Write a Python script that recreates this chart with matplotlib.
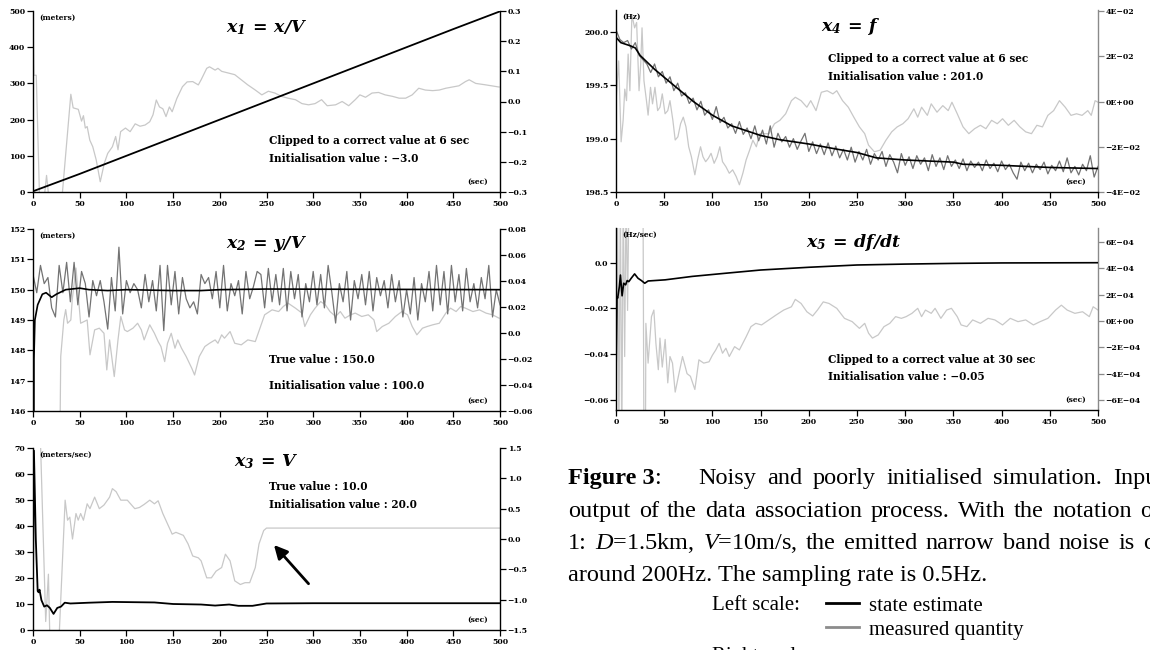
import numpy as np
import matplotlib
matplotlib.use("Agg")
import matplotlib.pyplot as plt
from matplotlib.lines import Line2D

plt.rcParams['font.family'] = 'DejaVu Serif'
plt.rcParams['font.weight'] = 'bold'
plt.rcParams['mathtext.fontset'] = 'custom'
plt.rcParams['mathtext.bf'] = 'DejaVu Serif:style=italic:weight=bold'
plt.rcParams['mathtext.it'] = 'Liberation Serif:style=italic:weight=normal'
plt.rcParams['mathtext.rm'] = 'Liberation Serif:weight=normal'

BLACK = '#000000'
DARK = '#737373'
LIGHT = '#c8c8c8'

# ---------------- data ----------------
x_ticks = [0, 50, 100, 150, 200, 250, 300, 350, 400, 450, 500]

# x1 = x/V
t1_est = [0, 50, 100, 150, 200, 250, 300, 350, 400, 450, 500]
x1_est = [2, 50, 100, 150, 200, 250, 300, 350, 400, 450, 499]
t1_err = [0, 1, 3.5, 7, 12, 14.5, 17, 31, 40.5, 43, 48.5, 52, 54, 56, 58, 60.8, 64, 67.7, 72, 76.4,
          80, 85, 88.5, 91, 93.8, 99, 104, 109.4, 114.6, 120, 125, 128.5, 132, 135.4, 139, 142.4,
          146, 149, 154, 160, 165, 171, 177, 180, 186, 189, 195, 198, 202, 216, 223, 230, 238, 245,
          252, 259, 266, 273, 281, 288, 295, 302, 309, 315, 324, 331, 338, 345, 350, 356, 363, 370,
          377, 385, 392, 399, 406, 413, 420, 428, 435, 442, 449, 456, 463, 467, 474, 485, 499]
x1_err = [0.29, 0.087, 0.087, -0.32, -0.32, -0.245, -0.32, -0.32, 0.024, -0.021, -0.026, -0.065,
          -0.047, -0.088, -0.083, -0.128, -0.15, -0.194, -0.266, -0.204, -0.172, -0.15, -0.116,
          -0.16, -0.1, -0.088, -0.1, -0.074, -0.082, -0.078, -0.067, -0.044, 0.005, -0.018, -0.024,
          -0.05, -0.018, -0.034, 0.01, 0.049, 0.065, 0.066, 0.055, 0.072, 0.110, 0.115, 0.104, 0.110,
          0.1, 0.089, 0.072, 0.055, 0.038, 0.022, 0.034, 0.028, 0.017, 0.011, 0.006, -0.007, -0.011,
          -0.007, 0.006, -0.014, -0.011, 0.0, -0.014, 0.006, 0.022, 0.014, 0.028, 0.03, 0.022, 0.017,
          0.011, 0.011, 0.022, 0.044, 0.038, 0.036, 0.038, 0.044, 0.048, 0.052, 0.066, 0.072, 0.06,
          0.055, 0.048]

# x2 = y/V
t2_est = [0, 1, 2, 5, 10, 14, 20, 25, 35, 50, 60, 80, 100, 150, 180, 200, 250, 500]
x2_est = [100, 147.7, 149.0, 149.5, 149.85, 149.9, 149.75, 149.85, 150.0, 150.05, 150.0, 149.97,
          150.0, 149.97, 149.97, 150.0, 150.02, 150.0]
t_meas = np.arange(0, 501, 4)
x2_meas = [150.5, 149.9, 150.8, 150.2, 150.4, 149.4, 149.1, 150.8, 149.9, 150.9, 149.6, 150.9,
           149.5, 150.6, 150.2, 149.1, 150.3, 149.8, 150.3, 149.6, 148.7, 150.4, 149.3, 151.4,
           149.2, 150.3, 149.9, 150.2, 150.0, 149.4, 150.5, 149.6, 150.3, 149.3, 150.8, 148.65,
           150.8, 149.5, 150.6, 149.2, 150.4, 149.7, 149.4, 149.6, 149.2, 150.5, 150.2, 150.4,
           149.7, 150.6, 149.4, 150.8, 149.3, 150.2, 149.8, 150.3, 149.2, 150.6, 149.7, 150.1,
           150.6, 150.5, 149.4, 150.7, 149.6, 150.5, 149.5, 150.7, 149.3, 150.6, 149.7, 150.5,
           149.1, 150.2, 149.6, 150.6, 149.5, 150.5, 149.4, 150.8, 149.9, 148.9, 150.2, 149.6,
           150.6, 149.0, 150.3, 149.7, 150.5, 149.5, 150.6, 149.3, 150.4, 149.8, 150.3, 149.4,
           150.5, 149.6, 150.3, 149.1, 150.0, 149.2, 150.4, 149.0, 150.2, 149.6, 150.6, 149.3,
           150.8, 149.5, 150.6, 149.2, 150.8, 149.6, 150.5, 149.3, 150.7, 149.6, 150.2, 149.4,
           150.4, 149.7, 150.8, 149.1, 150.0, 149.5]
t2_err = [29, 29.7, 33, 35, 37, 40.5, 42, 46, 51, 58, 61, 66, 71, 76, 79, 82, 87, 91, 94, 98,
          101, 107, 112, 116, 119, 125, 130, 134, 137, 141, 144, 148, 152, 155, 159, 164, 170, 173,
          178, 184, 189, 195, 198, 202, 205, 211, 216, 223, 230, 238, 243, 248, 256, 263, 268, 273,
          281, 288, 291, 297, 302, 308, 313, 318, 324, 329, 334, 340, 345, 352, 359, 365, 368, 374,
          381, 388, 395, 401, 406, 411, 417, 422, 428, 435, 442, 447, 453, 458, 463, 471, 478, 485,
          492, 499]
x2_err = [-0.07, -0.018, 0.010, 0.018, 0.0075, 0.010, 0.0255, 0.050, 0.0075, 0.010, -0.0168,
          0.0024, 0.0037, -0.0002, -0.0284, -0.0053, -0.0335, -0.0053, 0.0127, 0.0024, 0.0011,
          0.0037, 0.0075, 0.0024, -0.0053, 0.0063, -0.0002, -0.0066, -0.0104, -0.022, -0.0079,
          -0.0002, -0.0117, -0.0053, -0.0117, -0.0181, -0.0271, -0.0323, -0.0181, -0.0104, -0.0079,
          -0.0053, -0.0079, -0.0014, -0.004, 0.0011, -0.0079, -0.0091, -0.0053, -0.0066, 0.0037,
          0.014, 0.0178, 0.0165, 0.0204, 0.023, 0.0191, 0.0153, 0.005, 0.014, 0.0191, 0.0242,
          0.0217, 0.0165, 0.0127, 0.0165, 0.0114, 0.014, 0.0153, 0.0127, 0.014, 0.0101, 0.0011,
          0.005, 0.0075, 0.0127, 0.0165, 0.014, 0.005, -0.0014, 0.0037, 0.005, 0.0063, 0.0075,
          0.0153, 0.0191, 0.0165, 0.0204, 0.0191, 0.0165, 0.0178, 0.0153, 0.014, 0.0114]

# x3 = V
t3_est = [0, 1, 3, 5, 6, 7, 9, 12, 15, 18, 22, 26, 30, 34, 40, 60, 85, 130, 150, 180, 195, 210,
          220, 235, 250, 300, 500]
x3_est = [20, 69, 35, 15, 14.5, 15.5, 11.5, 9, 9.5, 8.5, 6.2, 8.5, 9.0, 10.5, 10.2, 10.5, 10.8,
          10.6, 10.0, 9.8, 9.4, 9.8, 9.3, 9.3, 10.2, 10.3, 10.3]
t3_err = [8, 13.6, 16.5, 18, 28, 34.4, 37, 39.4, 42.3, 46, 48.4, 51, 54, 58, 61, 66, 71, 76, 82,
          85, 89, 94, 101, 109, 114, 119, 125, 130, 134, 139, 144, 149, 153, 161, 166, 171, 177,
          180, 186, 191, 196, 202, 206, 211, 216, 222, 227, 232, 238, 242, 247, 250, 500]
x3_err = [1.6, -1.36, -0.58, -1.6, -1.6, 0.64, 0.31, 0.36, 0.0, 0.42, 0.31, 0.42, 0.31, 0.58, 0.5,
          0.69, 0.5, 0.56, 0.69, 0.83, 0.78, 0.64, 0.64, 0.5, 0.52, 0.57, 0.64, 0.58, 0.63, 0.42,
          0.25, 0.08, 0.11, 0.06, -0.08, -0.28, -0.31, -0.36, -0.64, -0.64, -0.53, -0.47, -0.25,
          -0.36, -0.69, -0.75, -0.72, -0.72, -0.47, -0.08, 0.14, 0.18, 0.18]
arrow_tip = (256, 33.5)
arrow_tail = (297, 17)

# x4 = f
t4_est = [0, 5, 15, 20, 25, 40, 60, 80, 100, 120, 150, 170, 200, 230, 250, 270, 300, 350, 360,
          400, 450, 500]
x4_est = [199.95, 199.9, 199.87, 199.85, 199.78, 199.65, 199.5, 199.35, 199.22, 199.12, 199.03,
          198.99, 198.95, 198.9, 198.87, 198.82, 198.8, 198.78, 198.76, 198.75, 198.73, 198.72]
x4_meas = [200.02, 199.93, 199.90, 199.92, 199.84, 199.90, 199.78, 199.74, 199.70, 199.62, 199.70,
           199.58, 199.63, 199.52, 199.58, 199.45, 199.52, 199.40, 199.43, 199.33, 199.38, 199.27,
           199.35, 199.22, 199.27, 199.18, 199.30, 199.15, 199.20, 199.10, 199.14, 199.05, 199.16,
           199.04, 199.10, 199.00, 199.12, 198.98, 199.08, 198.95, 199.12, 198.92, 199.05, 198.97,
           199.02, 198.92, 199.00, 198.90, 198.98, 199.05, 198.88, 198.97, 198.86, 198.95, 198.85,
           198.96, 198.84, 198.93, 198.82, 198.90, 198.80, 198.92, 198.78, 198.88, 198.80, 198.90,
           198.76, 198.86, 198.80, 198.88, 198.74, 198.85, 198.78, 198.68, 198.86, 198.75, 198.83,
           198.72, 198.84, 198.76, 198.82, 198.70, 198.85, 198.74, 198.82, 198.71, 198.84, 198.74,
           198.80, 198.72, 198.81, 198.70, 198.79, 198.73, 198.78, 198.70, 198.80, 198.72, 198.77,
           198.69, 198.79, 198.71, 198.76, 198.68, 198.62, 198.78, 198.70, 198.77, 198.68, 198.76,
           198.71, 198.78, 198.67, 198.75, 198.70, 198.79, 198.69, 198.82, 198.68, 198.74, 198.66,
           198.76, 198.70, 198.84, 198.64, 198.74]
t4_err = [0, 2.8, 5.3, 7.4, 9.1, 10.9, 12.6, 14.4, 16.5, 19.3, 21.4, 23.9, 25.6, 27, 29, 31.6,
          33.3, 35.8, 37.9, 40.4, 43.2, 45.6, 48, 50.9, 53.7, 56, 59, 61.4, 64.2, 67, 69.8, 72.6,
          75.4, 78.2, 81.8, 84.6, 87.7, 90.2, 93, 95.8, 98.6, 101.8, 104.9, 107.7, 110.5, 114,
          117.5, 121, 124.6, 128, 131.6, 135, 138.6, 142, 145.6, 149, 158.6, 164.4, 170, 176, 182,
          186, 192, 198, 202, 207.5, 213, 219, 225, 229, 235, 241, 246.7, 252.5, 258, 262, 268, 274,
          280, 286, 291.7, 297.6, 303, 309, 313, 317, 323, 327, 333, 339, 344.6, 348.5, 354, 360,
          366, 372, 378, 383.7, 389.6, 395.5, 401, 407, 413, 419, 425, 431, 436.6, 442.4, 448, 454,
          460, 466, 472, 477.7, 483.5, 489.4, 493, 497, 500]
x4_err = [0.0, 0.018, -0.0178, -0.0083, 0.0055, 0.0004, 0.021, 0.0048, 0.0384, 0.0326, 0.035,
          0.0048, 0.0165, 0.0326, 0.0092, 0.0004, -0.006, 0.0063, -0.001, 0.0063, -0.004, -0.0025,
          0.0034, -0.0054, -0.004, 0.0004, -0.0083, -0.017, -0.0156, -0.0098, -0.0069, -0.0112,
          -0.02, -0.0244, -0.0324, -0.0258, -0.02, -0.0244, -0.0266, -0.0251, -0.0229, -0.0273,
          -0.0244, -0.02, -0.0266, -0.0288, -0.0317, -0.0302, -0.0331, -0.0368, -0.0317, -0.0258,
          -0.0215, -0.0171, -0.02, -0.0142, -0.0142, -0.0098, -0.0083, -0.0054, 0.0004, 0.0019,
          0.0004, -0.0025, 0.0004, -0.004, 0.0041, 0.0048, 0.0034, 0.0048, 0.0004, -0.0025, -0.0069,
          -0.0112, -0.0142, -0.0193, -0.0222, -0.0215, -0.0171, -0.0134, -0.0112, -0.0098, -0.0076,
          -0.0032, -0.0069, -0.0025, -0.0061, -0.001, -0.0047, -0.0018, -0.004, -0.0003, -0.0054,
          -0.0112, -0.0142, -0.012, -0.0105, -0.012, -0.0083, -0.0098, -0.0076, -0.0105, -0.0083,
          -0.0112, -0.0134, -0.0142, -0.0105, -0.0112, -0.0061, -0.004, 0.0004, -0.0025, -0.0061,
          -0.0054, -0.0061, -0.004, -0.0061, 0.0004, -0.0003]

# x5 = df/dt
t5_est = [0, 1, 1.75, 3.5, 4.6, 6.3, 8, 10, 11.6, 13.3, 15.8, 19.3, 22.8, 26.3, 29.8, 33.3, 51, 79,
          114, 150, 200, 250, 300, 350, 400, 500]
x5_est = [-0.05, -0.015, -0.0155, -0.0104, -0.0054, -0.0145, -0.009, -0.0097, -0.0078, -0.0083,
          -0.0068, -0.0049, -0.0068, -0.0078, -0.009, -0.008, -0.0075, -0.006, -0.0046, -0.0032,
          -0.002, -0.001, -0.0006, -0.0003, -0.0001, 0.0]
t5_err = [0, 1.5, 3, 4.5, 6, 7.5, 9, 10.5, 12, 13.5, 28, 29, 30.5, 31, 33.3, 36.8, 39.3, 41.4,
          43.9, 45.6, 48, 51, 53.7, 56, 58.6, 61.4, 65, 69, 73.7, 77.2, 81.8, 86, 91, 96.5, 100,
          103.5, 107, 110.5, 114, 117.5, 123, 128, 135, 140, 145, 151, 158.6, 166, 174, 182, 186,
          192, 198, 204, 209, 215, 221, 229, 237, 245, 252.5, 258, 262, 266, 272, 278, 284, 290,
          296, 301, 307, 313, 317, 321, 327, 331, 337, 343, 348, 354, 358, 364, 370, 378, 386, 393,
          401, 409, 417, 425, 433, 440, 448, 456, 462, 468, 476, 484, 491, 495, 500]
x5_err_e4 = [-10, 10, -10, 10, -10, 10, -2.7, 10, 0.8, 10, 10, -10, -10, -0.18, -3.2, 0.33, 0.83,
             -1.7, -3.7, -1.3, -3.5, -1.4, -4.7, -2.7, -3.2, -5.4, -4.1, -2.7, -4.0, -4.2, -5.2,
             -2.95, -3.2, -3.1, -2.6, -2.2, -1.7, -2.45, -2.07, -2.7, -1.95, -2.2, -1.2, -0.43,
             -0.18, -0.3, 0.08, 0.45, 0.83, 1.08, 1.64, 1.33, 0.7, 0.38, 0.83, 1.45, 1.33, 0.96,
             0.2, -0.05, -0.56, -0.18, -0.93, -1.3, -1.06, -0.43, -0.18, 0.33, 0.2, 0.33, 0.58,
             0.96, 0.33, 0.83, 0.58, 0.96, 0.2, 0.83, 0.96, 0.33, -0.3, -0.43, 0.08, -0.18, 0.2,
             0.08, -0.3, 0.2, -0.05, 0.08, -0.3, -0.05, 0.2, 0.83, 1.2, 0.83, 0.58, 0.7, 0.33,
             1.08, 0.83]

# tick labels
yl1 = [0, 100, 200, 300, 400, 500]
yr1 = [-0.3, -0.2, -0.1, 0.0, 0.1, 0.2, 0.3]
yr1_lab = ['\u22120.3', '\u22120.2', '\u22120.1', '0.0', '0.1', '0.2', '0.3']
yl2 = [146, 147, 148, 149, 150, 151, 152]
yr2 = [-0.06, -0.04, -0.02, 0.0, 0.02, 0.04, 0.06, 0.08]
yr2_lab = ['\u22120.06', '\u22120.04', '\u22120.02', '0.0', '0.02', '0.04', '0.06', '0.08']
yl3 = [0, 10, 20, 30, 40, 50, 60, 70]
yr3 = [-1.5, -1.0, -0.5, 0.0, 0.5, 1.0, 1.5]
yr3_lab = ['\u22121.5', '\u22121.0', '\u22120.5', '0.0', '0.5', '1.0', '1.5']
yl4 = [198.5, 199.0, 199.5, 200.0]
yl4_lab = ['198.5', '199.0', '199.5', '200.0']
yr4 = [-0.04, -0.02, 0.0, 0.02, 0.04]
yr4_lab = ['\u22124E\u221202', '\u22122E\u221202', '0E+00', '2E\u221202', '4E\u221202']
yl5 = [-0.06, -0.04, -0.02, 0.0]
yl5_lab = ['\u22120.06', '\u22120.04', '\u22120.02', '0.0']
yr5 = [-6e-4, -4e-4, -2e-4, 0.0, 2e-4, 4e-4, 6e-4]
yr5_lab = ['\u22126E\u221204', '\u22124E\u221204', '\u22122E\u221204', '0E+00',
           '2E\u221204', '4E\u221204', '6E\u221204']

# caption text
cap_line1 = 'Noisy and poorly initialised simulation. Input is the'
cap_line2 = 'output of the data association process. With the notation of Section'
cap_line3 = r'1: $D$=1.5km, $V$=10m/s, the emitted narrow band noise is centred'
cap_line4 = 'around 200Hz. The sampling rate is 0.5Hz.'

# ---------------- figure ----------------
fig = plt.figure(figsize=(11.5, 6.5), dpi=100)
W, H = 1150.0, 650.0
renderer = fig.canvas.get_renderer()


def rect(x0, x1, ytop, ybot):
    return [x0 / W, 1 - ybot / H, (x1 - x0) / W, (ybot - ytop) / H]


def panel(r, ylim_l, ylim_r, yticks_l, yticks_r, ylab_r, right_gray=False, ylab_l=None):
    ax = fig.add_axes(r)
    ax2 = ax.twinx()
    ax.set_zorder(ax2.get_zorder() + 1)
    ax.patch.set_visible(False)
    ax.set_xlim(0, 500)
    ax.set_ylim(*ylim_l)
    ax2.set_ylim(*ylim_r)
    ax.set_xticks(x_ticks)
    ax.set_xticklabels([str(v) for v in x_ticks])
    ax.set_yticks(yticks_l)
    if ylab_l is None:
        ylab_l = [str(v) for v in yticks_l]
    ax.set_yticklabels(ylab_l)
    ax2.set_yticks(yticks_r)
    ax2.set_yticklabels(ylab_r)
    for a in (ax, ax2):
        a.spines['top'].set_visible(False)
        a.tick_params(labelsize=5.6, width=0.9, length=4, pad=1.5, direction='out')
        for s in a.spines.values():
            s.set_linewidth(1.0)
    ax.spines['right'].set_visible(False)
    ax2.spines['left'].set_visible(False)
    ax2.spines['bottom'].set_visible(False)
    if right_gray:
        ax2.spines['right'].set_color('#8a8a8a')
        ax2.tick_params(axis='y', color='#8a8a8a')
    for lab in ax.get_xticklabels() + ax.get_yticklabels() + ax2.get_yticklabels():
        lab.set_fontweight('bold')
    return ax, ax2


def notes(ax, title, tx, ty, unit, lines, nx, ny, dy):
    ax.text(tx, ty, title, transform=ax.transAxes, ha='center', va='center', fontsize=12.5)
    ax.text(0.013, 0.985, unit, transform=ax.transAxes, ha='left', va='top', fontsize=5.4)
    ax.text(0.975, 0.035, '(sec)', transform=ax.transAxes, ha='right', va='bottom', fontsize=5.4)
    for i, s in enumerate(lines):
        ax.text(nx, ny - i * dy, s, transform=ax.transAxes, ha='left', va='center', fontsize=7.6)


# panel 1
ax1, ax1r = panel(rect(33, 500, 11, 192), (0, 500), (-0.3, 0.3), yl1, yr1, yr1_lab)
ax1r.plot(t1_err, x1_err, color=LIGHT, lw=0.9)
ax1.plot(t1_est, x1_est, color=BLACK, lw=1.3)
notes(ax1, r'$\mathbf{x_1\ =\ x/V}$', 0.50, 0.91, '(meters)',
      ['Clipped to a correct value at 6 sec', 'Initialisation value : \u22123.0'], 0.505, 0.283, 0.098)

# panel 2
ax2, ax2r = panel(rect(33, 500, 229, 411), (146, 152), (-0.06, 0.08), yl2, yr2, yr2_lab)
ax2r.plot(t2_err, x2_err, color=LIGHT, lw=0.9)
ax2.plot(t_meas, x2_meas, color=DARK, lw=0.9)
ax2.plot(t2_est, x2_est, color=BLACK, lw=1.2)
notes(ax2, r'$\mathbf{x_2\ =\ y/V}$', 0.50, 0.915, '(meters)',
      ['True value : 150.0', 'Initialisation value : 100.0'], 0.505, 0.284, 0.145)

# panel 3
ax3, ax3r = panel(rect(33, 500, 448, 630), (0, 70), (-1.5, 1.5), yl3, yr3, yr3_lab)
ax3r.plot(t3_err, x3_err, color=LIGHT, lw=0.9)
ax3.plot(t3_est, x3_est, color=BLACK, lw=1.3)
notes(ax3, r'$\mathbf{x_3\ =\ V}$', 0.50, 0.925, '(meters/sec)',
      ['True value : 10.0', 'Initialisation value : 20.0'], 0.505, 0.791, 0.099)
ax3.annotate('', xy=arrow_tip, xytext=arrow_tail,
             arrowprops=dict(arrowstyle='-|>', color=BLACK, lw=2.0, mutation_scale=20))

# panel 4
ax4, ax4r = panel(rect(616, 1098, 10, 192), (198.5, 200.206), (-0.04, 0.0405), yl4, yr4, yr4_lab,
                  right_gray=True, ylab_l=yl4_lab)
ax4r.plot(t4_err, x4_err, color=LIGHT, lw=0.9)
ax4.plot(t_meas, x4_meas, color=DARK, lw=0.9)
ax4.plot(t4_est, x4_est, color=BLACK, lw=1.2)
notes(ax4, r'$\mathbf{x_4\ =\ f}$', 0.487, 0.907, '(Hz)',
      ['Clipped to a correct value at 6 sec', 'Initialisation value : 201.0'], 0.44, 0.736, 0.104)

# panel 5
ax5, ax5r = panel(rect(616, 1098, 228, 410), (-0.0645, 0.0152), (-6.76e-4, 7.06e-4), yl5, yr5, yr5_lab,
                  right_gray=True, ylab_l=yl5_lab)
ax5r.plot(t5_err, np.array(x5_err_e4) * 1e-4, color=LIGHT, lw=0.9)
ax5.plot(t5_est, x5_est, color=BLACK, lw=1.2)
notes(ax5, r'$\mathbf{x_5\ =\ df/dt}$', 0.493, 0.918, '(Hz/sec)',
      ['Clipped to a correct value at 30 sec', 'Initialisation value : \u22120.05'], 0.44, 0.28, 0.097)

# ---------------- caption (justified like the paper) ----------------
CAP = dict(family='Liberation Serif', fontweight='normal', fontsize=17.5, va='baseline')


def text_width(s, **kw):
    t = fig.text(0, 0, s, **kw)
    w = t.get_window_extent(renderer).width
    t.remove()
    return w


def justify(line, y, x0, anchor_idx, x_anchor):
    words = line.split(' ')
    widths = [text_width(w, **CAP) for w in words]
    gap = (x_anchor - x0 - sum(widths[:anchor_idx])) / anchor_idx
    x = x0
    for w, wd in zip(words, widths):
        fig.text(x / W, 1 - y / H, w, **CAP)
        x += wd + gap


head = fig.text(568 / W, 1 - 484 / H, 'Figure 3', family='Liberation Serif', fontweight='bold',
                fontsize=17.5, va='baseline')
hw = head.get_window_extent(renderer).width
fig.text((568 + hw) / W, 1 - 484 / H, ':', **CAP)
justify(cap_line1, 484, 698, 5, 1113)
justify(cap_line2, 517, 568, 9, 1140)
justify(cap_line3, 549, 568, 9, 1143)
fig.text(568 / W, 1 - 581 / H, cap_line4, **CAP)

LEG = dict(family='Liberation Serif', fontweight='normal', fontsize=15, va='baseline')
fig.text(712 / W, 1 - 610 / H, 'Left scale:', **LEG)
fig.text(712 / W, 1 - 661 / H, 'Right scale:', **LEG)

handles = [Line2D([], [], color=BLACK, lw=2.0), Line2D([], [], color='#8c8c8c', lw=2.0)]
fig.legend(handles, ['state estimate', 'measured quantity'], loc='upper left',
           bbox_to_anchor=(826 / W, 1 - 596 / H), frameon=False, handlelength=1.6,
           handletextpad=0.45, labelspacing=0.22, borderpad=0, borderaxespad=0,
           prop=dict(family='Liberation Serif', size=15, weight='normal'))

fig.savefig('out.png', dpi=100)
